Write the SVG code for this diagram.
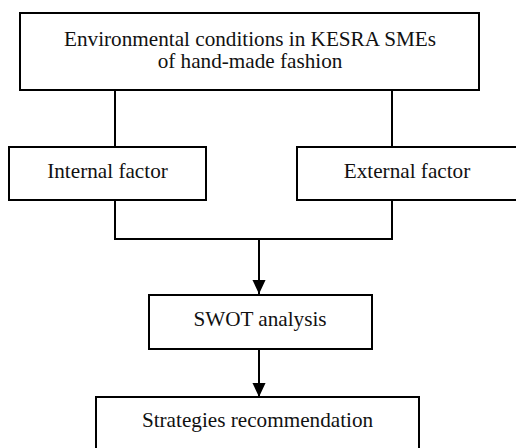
<svg xmlns="http://www.w3.org/2000/svg" width="516" height="448" viewBox="0 0 516 448">
<style>
.box{fill:#fff;stroke:#000;stroke-width:2}
.t{font-family:"Liberation Serif","Times New Roman",serif;font-size:21.2px;fill:#111;text-anchor:middle}
.c{fill:none;stroke:#000;stroke-width:2}
.a{marker-end:url(#ah)}
</style>
<defs>
<marker id="ah" markerUnits="userSpaceOnUse" markerWidth="14" markerHeight="15" refX="15" refY="7" orient="auto" viewBox="0 0 15 14">
<path d="M0,0 L15,7 L0,14 Z" fill="#000"/>
</marker>
</defs>
<rect width="516" height="448" fill="#fff"/>
<g id="connectors">
<line class="c" x1="115" y1="90" x2="115" y2="147"/>
<line class="c" x1="392" y1="90" x2="392" y2="147"/>
<polyline class="c" points="115,200 115,239 392,239 392,200"/>
<line class="c a" x1="259" y1="239" x2="259" y2="294"/>
<line class="c a" x1="259" y1="349" x2="259" y2="397"/>
</g>
<g id="top">
<rect class="box" x="20" y="13" width="459" height="77"/>
<text class="t" x="250" y="46">Environmental conditions in KESRA SMEs</text>
<text class="t" x="250" y="68">of hand-made fashion</text>
</g>
<g id="internal">
<rect class="box" x="9" y="147" width="197" height="53"/>
<text class="t" x="107.5" y="178">Internal factor</text>
</g>
<g id="external">
<rect class="box" x="297" y="147" width="225" height="53"/>
<text class="t" x="407" y="178">External factor</text>
</g>
<g id="swot">
<rect class="box" x="149" y="295" width="223" height="54"/>
<text class="t" x="260" y="326">SWOT analysis</text>
</g>
<g id="strategies">
<rect class="box" x="96" y="397" width="323" height="60"/>
<text class="t" x="257.5" y="427">Strategies recommendation</text>
</g>
</svg>
